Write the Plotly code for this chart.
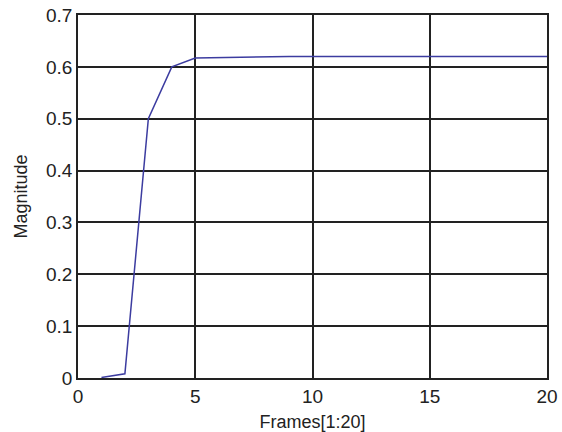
import plotly.graph_objects as go

frames = list(range(1, 21))
magnitude = [0.001, 0.008, 0.50, 0.600, 0.617, 0.618, 0.618, 0.6195, 0.620, 0.620,
             0.620, 0.620, 0.620, 0.620, 0.620, 0.620, 0.620, 0.620, 0.620, 0.620]
x_ticks = [0, 5, 10, 15, 20]
y_ticks = [0, 0.1, 0.2, 0.3, 0.4, 0.5, 0.6, 0.7]
y_tick_labels = ["0", "0.1", "0.2", "0.3", "0.4", "0.5", "0.6", "0.7"]

fig = go.Figure()
fig.add_trace(go.Scatter(x=frames, y=magnitude, mode="lines",
                         line=dict(color="#3c3ca0", width=1.5), showlegend=False))

fam = "Liberation Sans, Arial, sans-serif"
tick_font = dict(family=fam, size=19, color="#222222")
title_font = dict(family=fam, size=18, color="#222222")
fig.update_layout(
    width=562, height=432,
    margin=dict(l=78, r=15, t=15, b=54, pad=0),
    paper_bgcolor="white", plot_bgcolor="white",
    font=tick_font,
)
fig.update_xaxes(range=[0, 20], tickvals=x_ticks, ticktext=[str(v) for v in x_ticks],
                 tickfont=tick_font,
                 showgrid=True, gridcolor="#222222", gridwidth=1.5, automargin=False,
                 showline=True, linecolor="#222222", linewidth=1.5, mirror=True,
                 zeroline=False, ticks="", ticklen=0,
                 title=dict(text="Frames[1:20]", standoff=22, font=title_font))
fig.update_yaxes(range=[0, 0.7], tickvals=y_ticks, ticktext=y_tick_labels,
                 tickfont=tick_font,
                 showgrid=True, gridcolor="#222222", gridwidth=1.5, automargin=False,
                 showline=True, linecolor="#222222", linewidth=1.5, mirror=True,
                 zeroline=False, ticks="", ticklen=0,
                 title=dict(text="Magnitude", standoff=14, font=title_font))

fig.write_html("out.html", config={"displayModeBar": False},
               post_script="document.body.style.margin='0px';")
